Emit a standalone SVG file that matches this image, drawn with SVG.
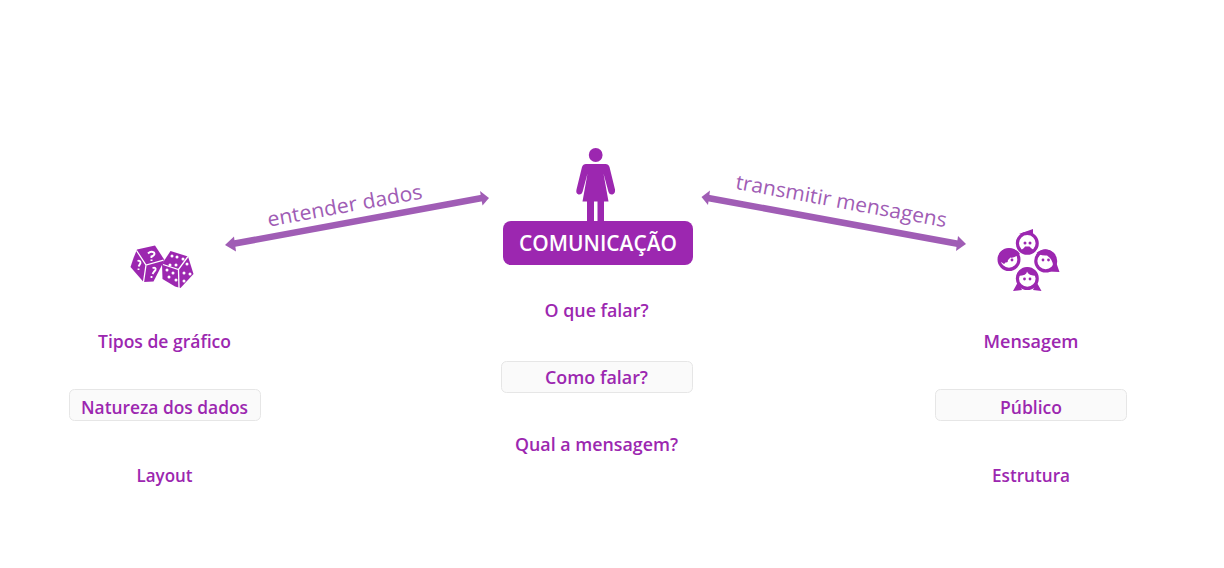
<svg xmlns="http://www.w3.org/2000/svg" width="1224" height="568" viewBox="0 0 1224 568">
<style>
text{font-family:"Open Sans","Noto Sans","Liberation Sans",sans-serif}
.l{font-size:17.5px;fill:#9C27B0;text-anchor:middle;font-weight:600}
.b{fill:#FAFAFA;stroke:#E6E6E6;stroke-width:1}
.a{stroke:#A05DB5;stroke-width:6.500;fill:none}
.h{fill:#A05DB5}
.t{font-size:20.500px;fill:#A05DB5;text-anchor:middle}
.p{fill:#9C27B0}
.w{fill:#fff}
.f{fill:#fff;stroke:#9C27B0;stroke-width:3.200}
</style>
<rect width="1224" height="568" fill="#fff"/>
<g id="connectors">
<g id="conn-left">
<line class="a" x1="232" y1="244" x2="482" y2="198"/>
<path class="h" d="M225 245L234 236.500L236 251.500Z"/>
<path class="h" d="M489 198L480 191L482.500 205.500Z"/>
</g>
<g id="conn-right">
<line class="a" x1="708" y1="198" x2="959" y2="244"/>
<path class="h" d="M701.500 197L710 190.500L708 205Z"/>
<path class="h" d="M966 244L958 236L956 251Z"/>
</g>
<text class="t" transform="translate(346 212.500) rotate(-10.400)" textLength="157" lengthAdjust="spacingAndGlyphs">entender dados</text>
<text class="t" transform="translate(840 208) rotate(10.400)" textLength="214" lengthAdjust="spacingAndGlyphs">transmitir mensagens</text>
</g>
<g id="dice">
<path class="p" d="M137 249.500L155 245.500L164.500 260L153.500 281.500L143.500 282L130.500 267L133.500 258Z"/>
<path d="M136.500 250.500L146 265L163.500 260M146 265L143.500 282" fill="none" stroke="#fff" stroke-width="1.300"/>
<path class="p" d="M170.500 251L188 256.500L193.500 274L180.500 288L175 286.500L162.500 279L162 264Z"/>
<path d="M163 264.500L178.500 269.500L188 256.500M178.500 269.500L179 288" fill="none" stroke="#fff" stroke-width="1.300"/>
<path d="M148 253.500Q151 250.500 154 252.500Q155.500 255 151.500 256.500L151.500 258M151.500 259.500V261" fill="none" stroke="#fff" stroke-width="2"/>
<path d="M137.500 261Q140.500 260 140.500 263Q139.500 265 138.500 266.500M138.500 268.500V270" fill="none" stroke="#fff" stroke-width="1.800"/>
<path d="M152.500 268Q156.500 267 155.500 270Q153.500 272 152.500 274M151.500 276V278" fill="none" stroke="#fff" stroke-width="1.800"/>
<g class="w">
<circle cx="172" cy="256" r="1.500"/><circle cx="177" cy="257" r="1.500"/><circle cx="183" cy="259" r="1.500"/>
<circle cx="170" cy="265" r="1.500"/><circle cx="176" cy="265" r="1.500"/>
<circle cx="167" cy="270" r="1.500"/><circle cx="173" cy="273" r="1.500"/><circle cx="169" cy="277" r="1.500"/><circle cx="176" cy="280" r="1.500"/>
<circle cx="187" cy="264" r="1.500"/><circle cx="190" cy="274" r="1.500"/><circle cx="184" cy="273" r="1.500"/><circle cx="184" cy="281" r="1.500"/>
</g>
</g>
<g id="person">
<circle class="p" cx="595.700" cy="155" r="6.900"/>
<path class="p" d="M586 164H605.500Q608.500 164 609.500 167L615 189.500Q615.500 193.500 612.500 194.500Q609.500 195 608.500 192L603.500 173.500L608.500 201.500H604V221H597.500V201.500H594V221H587V201.500H582.500L587.500 173.500L582.500 192Q581.500 195 578.500 194.500Q575.500 193.500 576.500 189.500L582 167Q583 164 586 164Z"/>
</g>
<g id="faces">
<g id="f1">
<path class="p" d="M1019 234L1033 229L1033 236Z"/>
<circle class="f" cx="1027.300" cy="243.300" r="9.900"/>
<path class="p" d="M1020.500 250.500Q1024.500 248 1025 246.500H1029.500Q1030.500 248 1034.500 250.500Q1027 257 1020.500 250.500Z"/>
<circle class="p" cx="1025" cy="243" r="1.500"/><circle class="p" cx="1030" cy="243" r="1.500"/>
</g>
<g id="f2">
<circle class="f" cx="1009" cy="259.500" r="9.900"/>
<path class="p" d="M998 260Q998.500 248.500 1009 248.500Q1017 248.500 1020 254Q1013 259 1010.500 257.500L1004 264Z"/>
<circle class="p" cx="1012" cy="260" r="1.400"/><circle class="p" cx="1006.500" cy="261" r="1.400"/>
</g>
<g id="f3">
<circle class="f" cx="1045.700" cy="261" r="9.900"/>
<path class="p" d="M1036.500 253Q1042 248.500 1047 249.500Q1056.500 252 1056 262L1059.500 272L1048 271.500L1053 267Q1053.500 260 1047 255.500Q1042 256 1036.500 253Z"/>
<circle class="p" cx="1043" cy="260" r="1.400"/><circle class="p" cx="1048.500" cy="260" r="1.400"/>
</g>
<g id="f4">
<path class="p" d="M1018 282L1013 291L1022 290ZM1036.500 282L1041.500 291L1033 290Z"/>
<circle class="f" cx="1027.300" cy="278.500" r="9.900"/>
<path class="p" d="M1018 276Q1027 275.500 1027 271.500Q1028 275.500 1037 276Q1034 267.500 1027 267.500Q1020 267.500 1018 276Z"/>
<circle class="p" cx="1024.500" cy="279" r="1.400"/><circle class="p" cx="1030" cy="279" r="1.400"/>
</g>
</g>
<g id="comunicacao">
<rect x="503" y="221" width="190" height="44" rx="8" fill="#9C27B0"/>
<text x="598" y="251" text-anchor="middle" font-size="21px" font-weight="600" fill="#fff" textLength="158" lengthAdjust="spacingAndGlyphs">COMUNICAÇÃO</text>
</g>
<g id="o-que-falar"><text class="l" x="596.500" y="316.500" textLength="104" lengthAdjust="spacingAndGlyphs">O que falar?</text></g>
<g id="como-falar"><rect class="b" x="501.500" y="361.500" width="191" height="31" rx="5"/><text class="l" x="596.500" y="383.500" textLength="103" lengthAdjust="spacingAndGlyphs">Como falar?</text></g>
<g id="qual-a-mensagem"><text class="l" x="596.500" y="451" textLength="163" lengthAdjust="spacingAndGlyphs">Qual a mensagem?</text></g>
<g id="tipos"><text class="l" x="164.500" y="347.500" textLength="133" lengthAdjust="spacingAndGlyphs">Tipos de gráfico</text></g>
<g id="natureza"><rect class="b" x="69.500" y="389.500" width="191" height="31" rx="5"/><text class="l" x="164.500" y="413.500" textLength="167" lengthAdjust="spacingAndGlyphs">Natureza dos dados</text></g>
<g id="layout"><text class="l" x="164.500" y="481.500" textLength="56" lengthAdjust="spacingAndGlyphs">Layout</text></g>
<g id="mensagem"><text class="l" x="1031" y="347.500" textLength="95" lengthAdjust="spacingAndGlyphs">Mensagem</text></g>
<g id="publico"><rect class="b" x="935.500" y="389.500" width="191" height="31" rx="5"/><text class="l" x="1031" y="413.500" textLength="62" lengthAdjust="spacingAndGlyphs">Público</text></g>
<g id="estrutura"><text class="l" x="1031" y="481.500" textLength="78" lengthAdjust="spacingAndGlyphs">Estrutura</text></g>
</svg>
